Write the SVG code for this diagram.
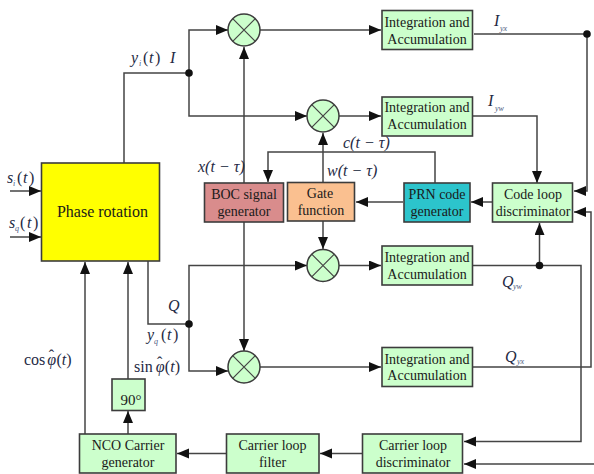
<svg xmlns="http://www.w3.org/2000/svg" width="594" height="474" viewBox="0 0 594 474">
<style>
text{font-family:"Liberation Serif","Times New Roman",serif;fill:#1a1a1a}
.n{font-size:14px;text-anchor:middle}
.l{font-size:16px;font-style:italic;fill:#1f2a44}
.r{font-size:16px;fill:#1f2a44}
.u{font-style:normal}
.s{font-size:8px;font-style:italic;fill:#4a5a80}
.b{stroke:#3c3c3c;stroke-width:1.6}
.g{fill:#ccffcc}
.c{fill:none;stroke:#444;stroke-width:1.5}
.a{marker-end:url(#ah)}
.x{stroke:#444;stroke-width:1.2}
</style>
<defs>
<marker id="ah" markerUnits="userSpaceOnUse" markerWidth="13" markerHeight="11" refX="12" refY="5" orient="auto"><path d="M0 0L12 5L0 10Z" fill="#111"/></marker>
<g id="mul"><circle r="16" fill="#ccffcc" stroke="#3c3c3c" stroke-width="1.5"/><path class="x" d="M-11.3-11.3L11.3 11.3M-11.3 11.3L11.3-11.3"/></g>
</defs>
<g id="connectors">
<path class="c a" d="M10 191H41"/>
<path class="c a" d="M10 237H41"/>
<path class="c" d="M124 163V73H189"/>
<path class="c a" d="M189 73V30H228"/>
<path class="c a" d="M189 73V116H307"/>
<path class="c a" d="M244 183V47"/>
<path class="c a" d="M244 222V351"/>
<path class="c a" d="M260 30H381"/>
<path class="c a" d="M339 116H381"/>
<path class="c a" d="M339 265.500H381"/>
<path class="c a" d="M260 367H381"/>
<path class="c a" d="M474 34H587V191H574"/>
<path class="c a" d="M473 116H537V183"/>
<path class="c a" d="M435 183V152H268V182"/>
<path class="c a" d="M323 182V133"/>
<path class="c a" d="M323 221V249"/>
<path class="c a" d="M403 202H356"/>
<path class="c a" d="M492 202H471"/>
<path class="c a" d="M473 265.500H581V441.500H464"/>
<path class="c a" d="M539.500 265.500V223"/>
<path class="c a" d="M473 367H591V212H574"/>
<path class="c" d="M148 261V324H189"/>
<path class="c a" d="M189 324V265.500H307"/>
<path class="c a" d="M189 324V371H228"/>
<path class="c a" d="M85 434V262"/>
<path class="c a" d="M128 379V262"/>
<path class="c a" d="M128 434V411"/>
<path class="c a" d="M226 453.500H177"/>
<path class="c a" d="M362 453.500H320"/>
<path class="c a" d="M594 464H464"/>
<circle cx="189" cy="73" r="3.800" fill="#111"/>
<circle cx="587" cy="34" r="3.800" fill="#111"/>
<circle cx="189" cy="324" r="3.800" fill="#111"/>
<circle cx="539.500" cy="265.500" r="3.800" fill="#111"/>
</g>
<g id="phase"><rect class="b" x="41.500" y="163" width="118" height="98" fill="#ffff00"/><text class="n" x="102.500" y="217" style="font-size:16px">Phase rotation</text></g>
<g id="mul1"><use href="#mul" x="244" y="30"/></g>
<g id="mul2"><use href="#mul" x="323" y="116"/></g>
<g id="mul3"><use href="#mul" x="323" y="265.500"/></g>
<g id="mul4"><use href="#mul" x="244" y="367"/></g>
<g id="ia1"><rect class="b g" x="382" y="10.500" width="90.500" height="39"/><text class="n" x="427" y="27">Integration and</text><text class="n" x="427" y="43.500">Accumulation</text></g>
<g id="ia2"><rect class="b g" x="382" y="97" width="90.500" height="39"/><text class="n" x="427" y="112">Integration and</text><text class="n" x="427" y="129">Accumulation</text></g>
<g id="ia3"><rect class="b g" x="382" y="246" width="90.500" height="39"/><text class="n" x="427" y="262">Integration and</text><text class="n" x="427" y="278.500">Accumulation</text></g>
<g id="ia4"><rect class="b g" x="382" y="347.500" width="90.500" height="39"/><text class="n" x="427" y="363.500">Integration and</text><text class="n" x="427" y="380">Accumulation</text></g>
<g id="boc"><rect class="b" x="204.500" y="183" width="79" height="39" fill="#d98c8c"/><text class="n" x="244" y="199">BOC signal</text><text class="n" x="244" y="216">generator</text></g>
<g id="gate"><rect class="b" x="287.500" y="182.500" width="67" height="38.500" fill="#fac090"/><text class="n" x="320" y="198">Gate</text><text class="n" x="321" y="215">function</text></g>
<g id="prn"><rect class="b" x="404" y="183" width="66" height="39" fill="#2cc4cc"/><text class="n" x="437" y="199">PRN code</text><text class="n" x="437" y="216">generator</text></g>
<g id="codeloop"><rect class="b g" x="492.500" y="183" width="80" height="39" /><text class="n" x="533" y="199">Code loop</text><text class="n" x="533" y="216">discriminator</text></g>
<g id="deg90"><rect class="b g" x="112" y="379" width="33" height="31.500"/><text class="n" x="131" y="405" style="font-size:15px">90°</text></g>
<g id="nco"><rect class="b g" x="79.500" y="434" width="96.500" height="39"/><text class="n" x="128" y="450">NCO Carrier</text><text class="n" x="128" y="467">generator</text></g>
<g id="filter"><rect class="b g" x="226.500" y="434" width="92.500" height="39"/><text class="n" x="272.500" y="450">Carrier loop</text><text class="n" x="272.500" y="467">filter</text></g>
<g id="disc"><rect class="b g" x="362.500" y="434" width="100" height="39"/><text class="n" x="413" y="450">Carrier loop</text><text class="n" x="413" y="467">discriminator</text></g>
<g id="labels">
<text class="l" x="131" y="63">y</text><text class="s" x="139" y="66">i</text><text class="r" x="143" y="63">(</text><text class="l" x="149" y="63">t</text><text class="r" x="155" y="63">)</text><text class="l" x="170" y="63">I</text>
<text class="l" x="7" y="183">s</text><text class="s" x="13" y="186">i</text><text class="r" x="17" y="183">(</text><text class="l" x="23" y="183">t</text><text class="r" x="29" y="183">)</text>
<text class="l" x="9" y="228">s</text><text class="s" x="15" y="231">q</text><text class="r" x="20" y="228">(</text><text class="l" x="27" y="228">t</text><text class="r" x="33" y="228">)</text>
<text class="l" x="198" y="172">x(t − τ)</text>
<text class="l" x="343" y="148">c(t − τ)</text>
<text class="l" x="327" y="176">w(t − τ)</text>
<text class="l" x="494" y="26">I</text><text class="s" x="500" y="31">yx</text>
<text class="l" x="488" y="106">I</text><text class="s" x="495" y="111">yw</text>
<text class="l" x="502" y="287">Q</text><text class="s" x="513" y="289">yw</text>
<text class="l" x="505" y="362">Q</text><text class="s" x="517" y="364">yx</text>
<text class="l" x="168" y="311">Q</text>
<text class="l" x="147" y="340">y</text><text class="s" x="154" y="344">q</text><text class="r" x="161" y="340">(</text><text class="l" x="167" y="340">t</text><text class="r" x="173" y="340">)</text>
<text class="l" x="24" y="365"><tspan class="u">cos</tspan><tspan dx="2">φ</tspan><tspan class="u" dx="-7.500" dy="-4">ˆ</tspan><tspan class="u" dx="2.500" dy="4">(</tspan>t<tspan class="u">)</tspan></text>
<text class="l" x="134" y="372"><tspan class="u">sin</tspan><tspan dx="3">φ</tspan><tspan class="u" dx="-7.500" dy="-4">ˆ</tspan><tspan class="u" dx="2.500" dy="4">(</tspan>t<tspan class="u">)</tspan></text>
</g>
</svg>
